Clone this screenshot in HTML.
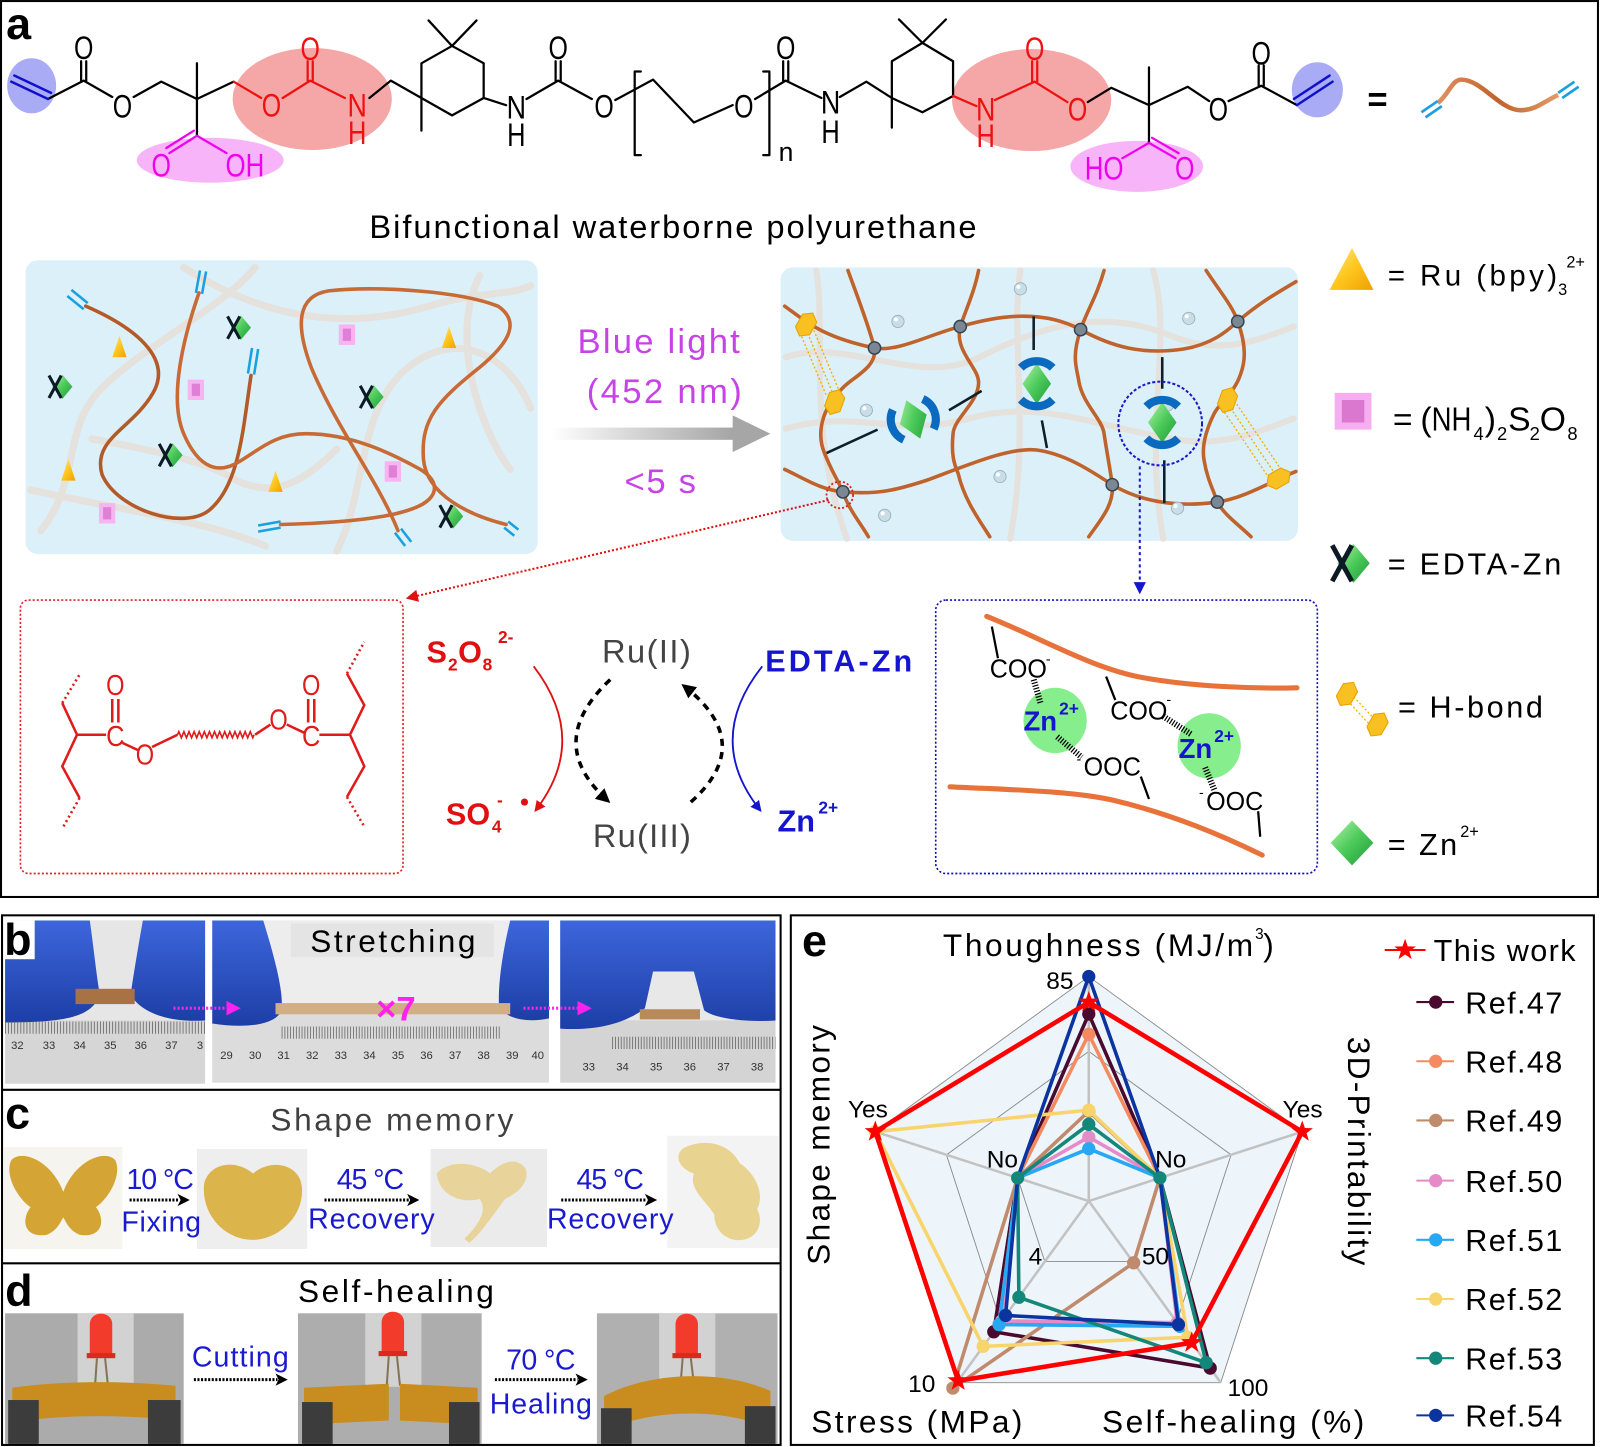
<!DOCTYPE html>
<html><head><meta charset="utf-8">
<style>
html,body{margin:0;padding:0;background:#fff;}
svg{display:block;}
text{font-family:"Liberation Sans",Arial,sans-serif;}
</style></head><body>
<svg width="1600" height="1447" viewBox="0 0 1568 1418" xmlns="http://www.w3.org/2000/svg" xmlns:xlink="http://www.w3.org/1999/xlink">
<defs>
<linearGradient id="gArrow" x1="0" x2="1" y1="0" y2="0"><stop offset="0" stop-color="#ffffff"/><stop offset="1" stop-color="#a4a4a4"/></linearGradient>
<linearGradient id="gYel" x1="0" x2="1" y1="0" y2="1"><stop offset="0" stop-color="#ffec8a"/><stop offset="0.5" stop-color="#ffc61e"/><stop offset="1" stop-color="#eea000"/></linearGradient>
<linearGradient id="gGrn" x1="0" x2="1" y1="0" y2="1"><stop offset="0" stop-color="#b4f4aa"/><stop offset="0.5" stop-color="#4cca5a"/><stop offset="1" stop-color="#1f9a3a"/></linearGradient>
<linearGradient id="gGlove" x1="0" x2="0" y1="0" y2="1"><stop offset="0" stop-color="#3d66dc"/><stop offset="1" stop-color="#1d3ea6"/></linearGradient>
<linearGradient id="gChain" x1="0" x2="1"><stop offset="0" stop-color="#e09060"/><stop offset="0.5" stop-color="#c0622b"/><stop offset="1" stop-color="#e39a68"/></linearGradient>
<path id="star" d="M0,-11 L2.6,-3.6 L10.5,-3.4 L4.2,1.4 L6.5,8.9 L0,4.4 L-6.5,8.9 L-4.2,1.4 L-10.5,-3.4 L-2.6,-3.6 Z"/>
<g id="tri"><path d="M0,-11 L7,10 L-7,10 Z" fill="url(#gYel)"/></g>
<g id="psq"><rect x="-8" y="-10" width="16" height="20" fill="#f7b4f1"/><rect x="-4" y="-6" width="8" height="12" fill="#df7fd6"/></g>
<g id="edta"><path d="M4,-12 L14,0 L4,12 L-6,0 Z" fill="url(#gGrn)"/><path d="M-9,-11 L3,11 M3,-11 L-9,11" stroke="#0b1a24" stroke-width="3" fill="none"/></g>
<g id="dia"><path d="M0,-20 L14,0 L0,20 L-14,0 Z" fill="url(#gGrn)"/></g>
<g id="node"><circle r="6" fill="#7a8894" stroke="#3a4450" stroke-width="1.5"/></g>
<g id="bub"><circle r="6" fill="#c9dde8" stroke="#98acb8" stroke-width="0.8"/><circle cx="-2" cy="-2" r="2" fill="#fff"/></g>
<g id="hex"><path d="M0,-13 L8,-7 L8,7 L0,13 L-8,7 L-8,-7 Z" fill="#f8c020" stroke="#e8a000" stroke-width="1"/></g>
<marker id="mRed" viewBox="0 0 10 10" refX="8" refY="5" markerWidth="6" markerHeight="6" orient="auto"><path d="M0,0 L10,5 L0,10 Z" fill="#e01010"/></marker>
<marker id="mBlue" viewBox="0 0 10 10" refX="8" refY="5" markerWidth="6" markerHeight="6" orient="auto"><path d="M0,0 L10,5 L0,10 Z" fill="#1515d0"/></marker>
<marker id="mBlk" viewBox="0 0 10 10" refX="8" refY="5" markerWidth="4" markerHeight="4" orient="auto"><path d="M0,0 L10,5 L0,10 Z" fill="#000"/></marker>
</defs>

<!-- ================= PANEL A ================= -->
<rect x="1" y="1" width="1565" height="878" fill="#fff" stroke="#000" stroke-width="2"/>
<text x="6" y="38" font-size="44" font-weight="bold">a</text>

<ellipse cx="31" cy="84" rx="24" ry="27" fill="#a9acf4"/>
<ellipse cx="306" cy="97" rx="78" ry="50" fill="#f5a6a6"/>
<ellipse cx="206" cy="157" rx="72" ry="22" fill="#f8b4f8"/>
<ellipse cx="1011" cy="98" rx="78" ry="50" fill="#f5a6a6"/>
<ellipse cx="1114" cy="163" rx="65" ry="25" fill="#f8b4f8"/>
<ellipse cx="1291" cy="88" rx="25" ry="27" fill="#a9acf4"/>

<g stroke="#000" stroke-width="2.2" fill="none" stroke-linecap="round" stroke-linejoin="round">
<path d="M47,97 L82,79 M79.5,79 L79.5,60 M84.5,79 L84.5,60 M82,79 L110,95 M131,95 L158,80 L193,97 M193,97 L193,62 M193,97 L193,133"/>
<path d="M362,96 L383,79 L413,96 M413,96 L413,62 L443,45 L474,62 L474,96 L443,113 Z M413,96 L413,128 M443,45 L420,20 M443,45 L467,20 M474,96 L496,103"/>
<path d="M516,97 L547,79 L580,97 M544.5,79 L544.5,60 M549.5,79 L549.5,60 M603,98 L640,78 L680,120 L718,103"/>
<path d="M628,70 L622,70 L622,152 L628,152 M748,70 L754,70 L754,152 L748,152"/>
<path d="M740,97 L770,79 M767.5,79 L767.5,60 M772.5,79 L772.5,60 M770,79 L805,96"/>
<path d="M823,95 L849,80 L874,96 M874,96 L874,60 L904,42 L934,60 L934,94 L904,110 Z M874,96 L874,125 M904,42 L881,19 M904,42 L927,19"/>
<path d="M1066,100 L1089,86 L1126,103 L1164,85 L1185,99 M1126,103 L1126,66 M1126,103 L1126,140"/>
<path d="M1204,99 L1236,84 L1271,103 M1233.5,84 L1233.5,64 M1238.5,84 L1238.5,64"/>
<path d="M193,97 L229,80"/>
</g>
<g stroke="#ee1111" stroke-width="2.2" fill="none" stroke-linecap="round">
<path d="M229,80 L256,96 M277,96 L304,79 L338,96 M301.5,79 L301.5,60 M306.5,79 L306.5,60"/>
<path d="M934,94 L957,104 M975,98 L1014,80 L1046,100 M1011.5,80 L1011.5,60 M1016.5,80 L1016.5,60"/>
</g>
<g stroke="#ee00ee" stroke-width="2.2" fill="none" stroke-linecap="round">
<path d="M193,133 L166,150 M190,128 L163,145 M193,133 L222,150"/>
<path d="M1126,140 L1100,155 M1126,140 L1152,155 M1129,135 L1155,150"/>
</g>
<g stroke="#1010cc" stroke-width="2.4" fill="none" stroke-linecap="round">
<path d="M11,80 L47,97 M14,74 L50,91"/>
<path d="M1271,103 L1306,80 M1268,97 L1303,74"/>
</g>
<g font-size="32">
<text x="72.5" y="58" textLength="19" lengthAdjust="spacingAndGlyphs">O</text>
<text x="110.5" y="115" textLength="19" lengthAdjust="spacingAndGlyphs">O</text>
<text x="496.5" y="116" textLength="19" lengthAdjust="spacingAndGlyphs">N</text>
<text x="497" y="143" textLength="18" lengthAdjust="spacingAndGlyphs">H</text>
<text x="537.5" y="58" textLength="19" lengthAdjust="spacingAndGlyphs">O</text>
<text x="582.5" y="115" textLength="19" lengthAdjust="spacingAndGlyphs">O</text>
<text x="719.5" y="115" textLength="19" lengthAdjust="spacingAndGlyphs">O</text>
<text x="760.5" y="58" textLength="19" lengthAdjust="spacingAndGlyphs">O</text>
<text x="804.5" y="111" textLength="19" lengthAdjust="spacingAndGlyphs">N</text>
<text x="805" y="140" textLength="18" lengthAdjust="spacingAndGlyphs">H</text>
<text x="1184.5" y="118" textLength="19" lengthAdjust="spacingAndGlyphs">O</text>
<text x="1226.5" y="63" textLength="19" lengthAdjust="spacingAndGlyphs">O</text>
<text x="763" y="158" font-size="26" font-family="Liberation Serif,serif">n</text>
<g fill="#ee1111">
<text x="256.5" y="114" textLength="19" lengthAdjust="spacingAndGlyphs">O</text>
<text x="294.5" y="59" textLength="19" lengthAdjust="spacingAndGlyphs">O</text>
<text x="340.5" y="114" textLength="19" lengthAdjust="spacingAndGlyphs">N</text>
<text x="341" y="141" textLength="18" lengthAdjust="spacingAndGlyphs">H</text>
<text x="956.5" y="118" textLength="19" lengthAdjust="spacingAndGlyphs">N</text>
<text x="957" y="144" textLength="18" lengthAdjust="spacingAndGlyphs">H</text>
<text x="1004.5" y="59" textLength="19" lengthAdjust="spacingAndGlyphs">O</text>
<text x="1046.5" y="118" textLength="19" lengthAdjust="spacingAndGlyphs">O</text>
</g>
<g fill="#ee00ee">
<text x="148.5" y="173" textLength="19" lengthAdjust="spacingAndGlyphs">O</text>
<text x="221" y="173" textLength="38" lengthAdjust="spacingAndGlyphs">OH</text>
<text x="1063" y="176" textLength="38" lengthAdjust="spacingAndGlyphs">HO</text>
<text x="1151.5" y="176" textLength="19" lengthAdjust="spacingAndGlyphs">O</text>
</g>
</g>
<text x="1340" y="109" font-size="34" font-weight="bold">=</text>
<path d="M1409,101 C1420,92 1423,78 1432,78 C1452,78 1470,108 1490,108 C1505,108 1512,100 1527,93" stroke="url(#gChain)" stroke-width="4.5" fill="none"/>
<path d="M1393,110 L1409,99 M1397,115 L1413,104 M1527,91 L1543,80 M1531,96 L1547,85" stroke="#1aa0e0" stroke-width="2.6"/>
<text x="362" y="233" font-size="32" textLength="595" lengthAdjust="spacing">Bifunctional waterborne polyurethane</text>

<!-- left box -->
<rect x="25" y="255" width="502" height="288" rx="12" fill="#dcf0f9"/>
<g stroke="#e6e0da" stroke-width="7" fill="none" stroke-linecap="round" opacity="0.9">
<path d="M40,520 C80,470 60,420 100,380 C140,340 220,300 250,262"/>
<path d="M180,262 C240,300 320,330 420,300 C470,285 500,290 520,280"/>
<path d="M30,480 C120,500 200,510 260,535"/>
<path d="M330,540 C360,480 350,400 400,360 C450,320 500,350 520,400"/>
<path d="M90,430 C140,440 200,450 230,470 C270,490 300,470 330,440"/>
<path d="M470,270 C440,330 470,420 500,460"/>
</g>
<g stroke="#c86a35" stroke-width="3.5" fill="none" stroke-linecap="round">
<path d="M84,300 C130,320 170,350 150,385 C130,420 90,430 100,465 C115,500 180,520 205,500 C235,475 238,420 246,368" stroke="#b35a28"/>
<path d="M195,287 C180,330 165,390 180,425 C195,460 215,465 235,452 C255,440 270,425 300,425 C345,425 385,445 412,460 C432,472 432,490 400,500 C370,510 315,513 275,514"/>
<path d="M390,520 C370,470 330,420 305,360 C290,320 290,290 322,285 C370,280 450,285 488,300 C510,315 500,335 470,360 C430,392 412,410 415,450 C418,485 460,505 496,514"/>
</g>
<g stroke="#1aa0e0" stroke-width="2.5">
<path d="M66,290 L82,303 M70,284 L86,297"/>
<path d="M243,366 L247,341 M249,367 L253,342"/>
<path d="M192,287 L196,265 M198,288 L202,266"/>
<path d="M275,511 L253,515 M275,517 L253,521"/>
<path d="M387,522 L397,535 M393,518 L403,531"/>
<path d="M494,517 L504,525 M498,511 L508,519"/>
</g>
<use href="#tri" xlink:href="#tri" x="117" y="340"/><use href="#tri" xlink:href="#tri" x="440" y="331"/>
<use href="#tri" xlink:href="#tri" x="67" y="461"/><use href="#tri" xlink:href="#tri" x="270" y="472"/>
<use href="#psq" xlink:href="#psq" x="340" y="328"/><use href="#psq" xlink:href="#psq" x="192" y="382"/>
<use href="#psq" xlink:href="#psq" x="385" y="462"/><use href="#psq" xlink:href="#psq" x="105" y="503"/>
<use href="#edta" xlink:href="#edta" x="232" y="321"/><use href="#edta" xlink:href="#edta" x="57" y="379"/>
<use href="#edta" xlink:href="#edta" x="362" y="389"/><use href="#edta" xlink:href="#edta" x="165" y="446"/>
<use href="#edta" xlink:href="#edta" x="440" y="506"/>

<rect x="540" y="419" width="180" height="12" fill="url(#gArrow)"/>
<path d="M718,407 L755,425 L718,443 Z" fill="#a6a6a6"/>
<g fill="#c644e6" font-size="34">
<text x="566" y="346" textLength="159" lengthAdjust="spacing">Blue light</text>
<text x="575" y="395" textLength="152" lengthAdjust="spacing">(452 nm)</text>
<text x="612" y="483" textLength="70" lengthAdjust="spacing">&lt;5 s</text>
</g>

<!-- right box -->
<rect x="765" y="262" width="507" height="268" rx="12" fill="#dcf0f9"/>
<g stroke="#e6e0da" stroke-width="6" fill="none" opacity="0.9" stroke-linecap="round">
<path d="M770,350 C830,330 900,380 960,350 C1020,320 1080,300 1150,330 C1200,350 1240,330 1268,320"/>
<path d="M770,420 C840,400 880,430 950,410 C1020,390 1080,420 1150,430 C1200,440 1240,420 1268,410"/>
<path d="M800,265 C810,330 790,420 830,528"/>
<path d="M1000,265 C990,330 1010,420 990,528"/>
<path d="M1130,265 C1150,330 1120,420 1140,528"/>
</g>
<g stroke="#c0622b" stroke-width="3.5" fill="none" stroke-linecap="round">
<path d="M769,300 C790,315 805,330 857,341 C880,345 910,328 941,320 C975,310 1020,302 1059,323 C1090,340 1120,348 1160,342 C1190,337 1205,322 1213,315 C1235,296 1255,285 1270,276"/>
<path d="M769,460 C790,470 805,480 826,482 C860,485 880,480 910,470 C950,455 990,438 1016,441 C1045,445 1070,462 1090,475 C1115,490 1150,498 1193,492 C1220,488 1245,472 1270,462"/>
<path d="M831,265 C840,290 850,315 857,341 C860,360 835,370 826,380 C805,400 800,425 808,444 C815,462 822,472 826,482 C832,500 845,515 851,526"/>
<path d="M959,265 C955,285 948,300 941,320 C935,345 960,360 959,376 C958,395 935,410 934,425 C932,445 935,455 939,464 C945,490 960,510 970,526"/>
<path d="M1082,265 C1075,290 1065,305 1059,323 C1050,350 1055,360 1057,372 C1060,395 1080,410 1082,425 C1085,445 1088,460 1090,475 C1092,495 1078,510 1067,526"/>
<path d="M1182,265 C1195,285 1208,300 1213,315 C1222,340 1220,355 1216,366 C1210,385 1195,395 1190,405 C1180,425 1178,440 1180,451 C1183,470 1190,482 1193,492 C1200,505 1215,515 1226,526"/>
</g>
<g stroke="#0d1f2a" stroke-width="2.5">
<path d="M810,444 L860,421 M930,402 L962,383 M1013,310 L1013,343 M1021,412 L1026,439 M1139,350 L1139,381 M1141,451 L1141,493"/>
</g>
<g stroke="#f0b000" stroke-width="1.3" stroke-dasharray="2 2" fill="none">
<path d="M784,326 L810,388 M790,323 L816,385 M796,320 L822,382"/>
<path d="M1200,404 L1242,466 M1206,400 L1248,462 M1212,396 L1254,458"/>
</g>
<use href="#hex" xlink:href="#hex" transform="translate(790,318) rotate(30)"/>
<use href="#hex" xlink:href="#hex" transform="translate(818,394) rotate(20)"/>
<use href="#hex" xlink:href="#hex" transform="translate(1203,392) rotate(20)"/>
<use href="#hex" xlink:href="#hex" transform="translate(1253,469) rotate(60)"/>
<use href="#node" xlink:href="#node" x="857" y="341"/><use href="#node" xlink:href="#node" x="941" y="320"/>
<use href="#node" xlink:href="#node" x="1059" y="323"/><use href="#node" xlink:href="#node" x="1213" y="315"/>
<use href="#node" xlink:href="#node" x="826" y="482"/><use href="#node" xlink:href="#node" x="1090" y="475"/>
<use href="#node" xlink:href="#node" x="1193" y="492"/>
<use href="#bub" xlink:href="#bub" x="1000" y="283"/><use href="#bub" xlink:href="#bub" x="880" y="315"/>
<use href="#bub" xlink:href="#bub" x="1165" y="312"/><use href="#bub" xlink:href="#bub" x="849" y="402"/>
<use href="#bub" xlink:href="#bub" x="1144" y="397"/><use href="#bub" xlink:href="#bub" x="980" y="467"/>
<use href="#bub" xlink:href="#bub" x="867" y="505"/><use href="#bub" xlink:href="#bub" x="1154" y="498"/>
<g transform="translate(895,411) rotate(-20)">
<use href="#dia" xlink:href="#dia"/>
<path d="M-15.6,-15.6 A22,22 0 0,0 -15.6,15.6 M15.6,-15.6 A22,22 0 0,1 15.6,15.6" stroke="#0a6ac0" stroke-width="8" fill="none"/>
</g>
<g transform="translate(1016,376)">
<use href="#dia" xlink:href="#dia"/>
<path d="M-15.6,-15.6 A22,22 0 0,1 15.6,-15.6 M-15.6,15.6 A22,22 0 0,0 15.6,15.6" stroke="#0a6ac0" stroke-width="8" fill="none"/>
</g>
<g transform="translate(1139,414)">
<use href="#dia" xlink:href="#dia"/>
<path d="M-15.6,-15.6 A22,22 0 0,1 15.6,-15.6 M-15.6,15.6 A22,22 0 0,0 15.6,15.6" stroke="#0a6ac0" stroke-width="8" fill="none"/>
</g>
<ellipse cx="1137" cy="415" rx="41" ry="41" fill="none" stroke="#1a1acc" stroke-width="2" stroke-dasharray="3 2"/>
<circle cx="823" cy="485" r="13" fill="none" stroke="#e02020" stroke-width="1.8" stroke-dasharray="2 2"/>
<path d="M812,490 L400,586" stroke="#e01010" stroke-width="2" stroke-dasharray="2 2" fill="none" marker-end="url(#mRed)"/>
<path d="M1117,457 L1117,580" stroke="#1a1acc" stroke-width="2" stroke-dasharray="3 3" fill="none" marker-end="url(#mBlue)"/>

<!-- legend right of panel a -->
<path d="M1325,243 L1346,284 L1303,284 Z" fill="url(#gYel)"/>
<g font-size="29">
<text x="1360" y="280" textLength="166" lengthAdjust="spacing">= Ru (bpy)</text>
<text x="1527" y="289" font-size="16">3</text><text x="1535" y="262" font-size="16">2+</text>
</g>
<rect x="1308" y="385" width="36" height="36" fill="#f6aef0"/><rect x="1315" y="392" width="22" height="22" fill="#da78d0"/>
<g font-size="33">
<text x="1365" y="422">=</text>
<text x="1392" y="422">(</text>
<text x="1403" y="422" textLength="39" lengthAdjust="spacingAndGlyphs">NH</text>
<text x="1444" y="431" font-size="18">4</text><text x="1455" y="422">)</text>
<text x="1467" y="431" font-size="18">2</text><text x="1478" y="422">S</text>
<text x="1499" y="431" font-size="18">2</text><text x="1509" y="422">O</text>
<text x="1536" y="431" font-size="18">8</text>
</g>
<g font-size="30">
<text x="1360" y="563" textLength="170" lengthAdjust="spacing">= EDTA-Zn</text>
<text x="1370" y="703" textLength="142" lengthAdjust="spacing">= H-bond</text>
<text x="1360" y="838" textLength="68" lengthAdjust="spacing">= Zn</text>
<text x="1431" y="820" font-size="16">2+</text>
</g>
<g transform="translate(1320,552) scale(1.6)"><use href="#edta" xlink:href="#edta"/></g>
<g stroke="#f0b000" stroke-width="1.2" stroke-dasharray="2 2"><path d="M1318,684 L1346,714 M1324,680 L1352,710"/></g>
<use href="#hex" xlink:href="#hex" transform="translate(1320,680) rotate(30)"/>
<use href="#hex" xlink:href="#hex" transform="translate(1350,710) rotate(30)"/>
<path d="M1325,804 L1346,826 L1325,848 L1304,826 Z" fill="url(#gGrn)"/>

<!-- red dotted box -->
<rect x="20" y="588" width="375" height="268" rx="8" fill="none" stroke="#e02020" stroke-width="1.6" stroke-dasharray="2 2"/>
<g stroke="#e01b1b" stroke-width="2.5" fill="none">
<path d="M61,689 L75.5,720 L61,751 L78,782 M75.5,720 L104,720 M110,708 L110,685 M116,708 L116,685 M120,728 L135,735 M149,732 L174,720 M250,720 L265,710 M281,710 L298,718 M302,708 L302,685 M308,708 L308,685 M313,720 L343,720 L357,691 L340,660 M343,720 L357,751 L340,781"/>
<path d="M174,720 l1.25,-3 l2.5,6 l1.25,-3 l1.25,-3 l2.5,6 l1.25,-3 l1.25,-3 l2.5,6 l1.25,-3 l1.25,-3 l2.5,6 l1.25,-3 l1.25,-3 l2.5,6 l1.25,-3 l1.25,-3 l2.5,6 l1.25,-3 l1.25,-3 l2.5,6 l1.25,-3 l1.25,-3 l2.5,6 l1.25,-3 l1.25,-3 l2.5,6 l1.25,-3 l1.25,-3 l2.5,6 l1.25,-3 l1.25,-3 l2.5,6 l1.25,-3 l1.25,-3 l2.5,6 l1.25,-3 l1.25,-3 l2.5,6 l1.25,-3 l1.25,-3 l2.5,6 l1.25,-3 l1.25,-3 l2.5,6 l1.25,-3" stroke-width="1.6"/>
<path d="M61,689 L78,661 M78,782 L61,812 M340,660 L357,629 M340,781 L357,810" stroke-dasharray="2 3"/>
</g>
<g fill="#e01b1b" font-size="28">
<text x="104" y="681" textLength="18" lengthAdjust="spacingAndGlyphs">O</text>
<text x="104" y="731" textLength="18" lengthAdjust="spacingAndGlyphs">C</text>
<text x="133" y="749" textLength="18" lengthAdjust="spacingAndGlyphs">O</text>
<text x="264" y="715" textLength="18" lengthAdjust="spacingAndGlyphs">O</text>
<text x="296" y="731" textLength="18" lengthAdjust="spacingAndGlyphs">C</text>
<text x="296" y="681" textLength="18" lengthAdjust="spacingAndGlyphs">O</text>
</g>
<g fill="#e01010" font-weight="bold" font-size="30">
<text x="418" y="649">S</text><text x="439" y="657" font-size="17">2</text><text x="449" y="649">O</text><text x="473" y="657" font-size="17">8</text><text x="488" y="630" font-size="17">2-</text>
<text x="437" y="808">SO</text><text x="482" y="816" font-size="17">4</text><text x="487" y="790" font-size="17">-</text>
</g>
<circle cx="514" cy="786" r="3.5" fill="#e01010"/>
<path d="M523,653 Q578,725 525,794" stroke="#e01010" stroke-width="1.8" fill="none" marker-end="url(#mRed)"/>
<g fill="#444" font-size="32">
<text x="590" y="649" textLength="87" lengthAdjust="spacing">Ru(II)</text>
<text x="581" y="830" textLength="96" lengthAdjust="spacing">Ru(III)</text>
</g>
<path d="M598,666 Q532,728 596,785" stroke="#000" stroke-width="3.5" fill="none" stroke-dasharray="7 6" marker-end="url(#mBlk)"/>
<path d="M677,786 Q742,728 670,672" stroke="#000" stroke-width="3.5" fill="none" stroke-dasharray="7 6" marker-end="url(#mBlk)"/>
<g fill="#1515d0" font-weight="bold" font-size="30">
<text x="750" y="658" textLength="144" lengthAdjust="spacing">EDTA-Zn</text>
<text x="762" y="815">Zn</text><text x="802" y="797" font-size="17">2+</text>
</g>
<path d="M747,653 Q690,725 745,794" stroke="#1515d0" stroke-width="1.8" fill="none" marker-end="url(#mBlue)"/>

<!-- blue dotted box -->
<rect x="917" y="588" width="374" height="268" rx="10" fill="none" stroke="#1010c0" stroke-width="1.6" stroke-dasharray="2 2"/>
<g stroke="#e8733a" stroke-width="5" fill="none" stroke-linecap="round">
<path d="M967,604 C1020,625 1070,655 1120,664 C1170,673 1230,675 1271,674"/>
<path d="M931,771 C990,774 1050,775 1090,784 C1150,798 1200,820 1237,838"/>
</g>
<ellipse cx="1034" cy="706" rx="31" ry="32" fill="#86ee8c"/>
<ellipse cx="1185" cy="731" rx="31" ry="32" fill="#86ee8c"/>
<g stroke="#000" stroke-width="2.2" fill="none">
<path d="M972,614 L978,645 M1084,663 L1093,686 M1118,761 L1126,783 M1233,795 L1235,820"/>
</g>
<g stroke="#000" stroke-width="6" stroke-dasharray="1.2 1.6" fill="none">
<path d="M1013,666 L1020,690 M1036,722 L1060,742 M1140,702 L1168,720 M1181,752 L1190,774"/>
</g>
<g font-size="25" fill="#000">
<text x="970" y="664" textLength="56" lengthAdjust="spacingAndGlyphs">COO</text><text x="1025" y="650" font-size="14">-</text>
<text x="1088" y="705" textLength="56" lengthAdjust="spacingAndGlyphs">COO</text><text x="1143" y="690" font-size="14">-</text>
<text x="1062" y="760" textLength="56" lengthAdjust="spacingAndGlyphs">OOC</text><text x="1055" y="748" font-size="14">-</text>
<text x="1182" y="794" textLength="56" lengthAdjust="spacingAndGlyphs">OOC</text><text x="1175" y="781" font-size="14">-</text>
</g>
<g fill="#1515d0" font-weight="bold" font-size="27">
<text x="1003" y="716">Zn</text><text x="1038" y="700" font-size="17">2+</text>
<text x="1155" y="743">Zn</text><text x="1190" y="727" font-size="17">2+</text>
</g>

<!-- ================= PANELS B-D ================= -->
<rect x="2" y="897" width="763" height="519" fill="#fff" stroke="#000" stroke-width="2"/>
<rect x="5" y="902" width="196" height="160" fill="#d6d6d6"/>
<rect x="5" y="902" width="196" height="98" fill="#e6e6e6"/>
<path d="M5,902 L88,902 C92,930 95,960 98,975 C90,995 70,1002 5,1002 Z" fill="url(#gGlove)"/>
<path d="M201,902 L140,902 C135,930 130,960 128,975 C140,995 170,1002 201,1000 Z" fill="url(#gGlove)"/>
<rect x="74" y="969" width="58" height="15" fill="#a87244"/>
<path d="M5,1007 L201,1007" stroke="#666" stroke-width="12" stroke-dasharray="0.8 2.2"/>
<g font-size="11" fill="#333" text-anchor="middle">
<text x="17" y="1028">32</text><text x="48" y="1028">33</text><text x="78" y="1028">34</text><text x="108" y="1028">35</text><text x="138" y="1028">36</text><text x="168" y="1028">37</text><text x="196" y="1028">3</text>
</g>
<rect x="4" y="902" width="30" height="38" fill="#fff"/>
<text x="4" y="936" font-size="44" font-weight="bold">b</text>
<rect x="208" y="902" width="330" height="159" fill="#dcdcdc"/>
<rect x="208" y="902" width="330" height="82" fill="#ededed"/>
<path d="M208,902 L258,902 C268,935 278,970 276,990 C270,1005 240,1008 208,1003 Z" fill="url(#gGlove)"/>
<path d="M538,902 L500,902 C492,935 488,965 489,985 C495,1000 520,1002 538,998 Z" fill="url(#gGlove)"/>
<rect x="270" y="983" width="230" height="11" fill="#d2ae86"/>
<path d="M276,1012 L490,1012" stroke="#666" stroke-width="12" stroke-dasharray="0.8 2"/>
<rect x="285" y="905" width="199" height="33" fill="#e4e4e4"/>
<text x="304" y="933" font-size="31" textLength="162" lengthAdjust="spacing">Stretching</text>
<text x="388" y="1000" font-size="34" font-weight="bold" fill="#ff22ee" text-anchor="middle">×7</text>
<g font-size="11" fill="#333" text-anchor="middle">
<text x="222" y="1038">29</text><text x="250" y="1038">30</text><text x="278" y="1038">31</text><text x="306" y="1038">32</text><text x="334" y="1038">33</text><text x="362" y="1038">34</text><text x="390" y="1038">35</text><text x="418" y="1038">36</text><text x="446" y="1038">37</text><text x="474" y="1038">38</text><text x="502" y="1038">39</text><text x="527" y="1038">40</text>
</g>
<rect x="549" y="902" width="211" height="159" fill="#d4d4d4"/>
<rect x="600" y="940" width="120" height="60" fill="#e8e8e8"/>
<path d="M549,902 L760,902 L760,1000 C730,1002 700,998 690,990 L680,952 L640,952 L632,988 C610,1005 580,1010 549,1008 Z" fill="url(#gGlove)"/>
<rect x="627" y="989" width="59" height="10" fill="#b88a5a"/>
<path d="M600,1022 L760,1022" stroke="#666" stroke-width="12" stroke-dasharray="0.8 2"/>
<g font-size="11" fill="#333" text-anchor="middle">
<text x="577" y="1049">33</text><text x="610" y="1049">34</text><text x="643" y="1049">35</text><text x="676" y="1049">36</text><text x="709" y="1049">37</text><text x="742" y="1049">38</text>
</g>
<g stroke="#ff22ee" stroke-width="3" stroke-dasharray="2 2"><path d="M170,988 L224,988 M513,988 L568,988"/></g>
<path d="M222,981 L236,988 L222,995 Z M566,981 L580,988 L566,995 Z" fill="#ff22ee"/>
<line x1="2" y1="1068" x2="765" y2="1068" stroke="#000" stroke-width="2"/>

<!-- c -->
<text x="5" y="1106" font-size="44" font-weight="bold">c</text>
<text x="265" y="1108" font-size="31" fill="#404040" textLength="238" lengthAdjust="spacing">Shape memory</text>
<rect x="4" y="1124" width="116" height="100" fill="#f6f4ee"/>
<path d="M62,1168 C50,1136 20,1126 11,1137 C4,1152 18,1175 30,1183 C20,1196 24,1214 46,1210 C56,1206 59,1198 62,1193 C65,1198 68,1206 78,1210 C100,1214 104,1196 94,1183 C106,1175 120,1152 113,1137 C104,1126 74,1136 62,1168 Z" fill="#d4a535"/>
<rect x="193" y="1126" width="108" height="98" fill="#eeeeee"/>
<path d="M200,1160 C205,1140 230,1135 248,1150 C265,1135 295,1140 296,1165 C297,1195 270,1215 248,1215 C220,1215 197,1190 200,1160 Z" fill="#dbb44c"/>
<rect x="422" y="1126" width="114" height="96" fill="#ebebeb"/>
<path d="M428,1150 C440,1135 470,1140 480,1150 C490,1140 505,1132 515,1145 C520,1160 505,1170 495,1175 C480,1195 470,1210 460,1218 L455,1214 C470,1200 478,1185 470,1175 C450,1180 430,1170 428,1150 Z" fill="#e8d49a"/>
<rect x="654" y="1113" width="109" height="110" fill="#f3f3f3"/>
<path d="M670,1125 C690,1115 715,1120 725,1140 C740,1150 750,1170 742,1185 C750,1200 740,1218 720,1215 C705,1212 700,1200 700,1190 C690,1175 675,1165 680,1150 C665,1145 660,1132 670,1125 Z" fill="#e8d490"/>
<g fill="#1a1ad0" font-size="28">
<text x="124" y="1165" textLength="66" lengthAdjust="spacing">10 °C</text>
<text x="119" y="1207" textLength="78" lengthAdjust="spacing">Fixing</text>
<text x="330" y="1165" textLength="66" lengthAdjust="spacing">45 °C</text>
<text x="302" y="1204" textLength="124" lengthAdjust="spacing">Recovery</text>
<text x="565" y="1165" textLength="66" lengthAdjust="spacing">45 °C</text>
<text x="536" y="1204" textLength="124" lengthAdjust="spacing">Recovery</text>
</g>
<g stroke="#000" stroke-width="3" stroke-dasharray="2 1.5"><path d="M127,1176 L176,1176 M318,1176 L401,1176 M550,1176 L634,1176"/></g>
<path d="M174,1170 L186,1176 L174,1182 L177,1176 Z M399,1170 L411,1176 L399,1182 L402,1176 Z M632,1170 L644,1176 L632,1182 L635,1176 Z" fill="#000"/>
<line x1="2" y1="1238" x2="765" y2="1238" stroke="#000" stroke-width="2"/>

<!-- d -->
<text x="5" y="1280" font-size="44" font-weight="bold">d</text>
<text x="292" y="1276" font-size="31" textLength="192" lengthAdjust="spacing">Self-healing</text>
<g>
<rect x="5" y="1287" width="175" height="128" fill="#ababab"/>
<rect x="76" y="1287" width="55" height="72" fill="#d2d2d2"/>
<path d="M88,1330 L88,1298 C88,1284 110,1284 110,1298 L110,1330 Z" fill="#f23b2b"/><rect x="85" y="1326" width="28" height="5" fill="#d82a20"/>
<path d="M95,1331 L93,1360 M103,1331 L106,1360" stroke="#857455" stroke-width="2"/>
<path d="M12,1360 C60,1353 120,1353 172,1358 L172,1392 C120,1386 60,1386 12,1394 Z" fill="#c98c1e"/>
<rect x="8" y="1372" width="30" height="43" fill="#3c3c3c"/><rect x="145" y="1372" width="32" height="43" fill="#3c3c3c"/>

<rect x="292" y="1287" width="180" height="128" fill="#adadad"/>
<rect x="358" y="1287" width="55" height="72" fill="#d2d2d2"/>
<path d="M374,1328 L374,1296 C374,1282 396,1282 396,1296 L396,1328 Z" fill="#f23b2b"/><rect x="371" y="1324" width="28" height="5" fill="#d82a20"/>
<path d="M381,1329 L379,1358 M389,1329 L392,1358" stroke="#857455" stroke-width="2"/>
<path d="M298,1360 L381,1356 L381,1392 L298,1396 Z M392,1356 L468,1360 L468,1396 L392,1392 Z" fill="#c98c1e"/>
<rect x="296" y="1374" width="30" height="41" fill="#3c3c3c"/><rect x="440" y="1374" width="30" height="41" fill="#3c3c3c"/>

<rect x="585" y="1287" width="177" height="128" fill="#b0b0b0"/>
<rect x="646" y="1287" width="55" height="70" fill="#d2d2d2"/>
<path d="M662,1330 L662,1298 C662,1284 684,1284 684,1298 L684,1330 Z" fill="#f23b2b"/><rect x="659" y="1326" width="28" height="5" fill="#d82a20"/>
<path d="M669,1331 L667,1356 M677,1331 L680,1356" stroke="#857455" stroke-width="2"/>
<path d="M592,1368 C640,1343 710,1343 755,1363 L755,1400 C710,1380 640,1380 592,1402 Z" fill="#c98c1e"/>
<rect x="589" y="1380" width="30" height="35" fill="#3c3c3c"/><rect x="730" y="1378" width="30" height="37" fill="#3c3c3c"/>
</g>
<g fill="#1a1ad0" font-size="28">
<text x="188" y="1339" textLength="95" lengthAdjust="spacing">Cutting</text>
<text x="496" y="1342" textLength="68" lengthAdjust="spacing">70 °C</text>
<text x="480" y="1385" textLength="100" lengthAdjust="spacing">Healing</text>
</g>
<g stroke="#000" stroke-width="3" stroke-dasharray="2 1.5"><path d="M190,1352 L272,1352 M485,1352 L566,1352"/></g>
<path d="M270,1346 L282,1352 L270,1358 L273,1352 Z M564,1346 L576,1352 L564,1358 L567,1352 Z" fill="#000"/>

<!-- ================= PANEL E ================= -->
<rect x="775" y="897" width="787" height="519" fill="#fff" stroke="#000" stroke-width="2"/>
<text x="786" y="937" font-size="44" font-weight="bold">e</text>
<path d="M1067,957 L1276.2,1109 L1196.3,1355 L937.7,1355 L857.8,1109 Z" fill="#edf5fb" stroke="#8a8a8a" stroke-width="0.9"/>
<path d="M1067,1030.3 L1206.5,1131.7 L1153.2,1295.7 L980.8,1295.7 L927.5,1131.7 Z M1067,1103.7 L1136.7,1154.3 L1110.1,1236.3 L1023.9,1236.3 L997.3,1154.3 Z" fill="none" stroke="#8a8a8a" stroke-width="0.9"/>
<path d="M1067,1177 L1067,957 M1067,1177 L1276.2,1109 M1067,1177 L1196.3,1355 M1067,1177 L937.7,1355 M1067,1177 L857.8,1109" stroke="#c2c2c2" stroke-width="2.5"/>

<g stroke-width="3.5" fill="none" stroke-linejoin="round">
<polygon points="1067,993.7 1136.7,1154.3 1186,1340.7 973.9,1305.1 997.3,1154.3" stroke="#4a0a30"/>
<g fill="#4a0a30"><circle cx="1067" cy="993.7" r="6.5"/><circle cx="1186" cy="1340.7" r="6.5"/><circle cx="973.9" cy="1305.1" r="6.5"/></g>
<polygon points="1067,1013.5 1136.7,1154.3 1154.9,1298 979.1,1298 997.3,1154.3" stroke="#f58a60"/>
<g fill="#f58a60"><circle cx="1067" cy="1013.5" r="6.5"/><circle cx="1154.9" cy="1298" r="6.5"/><circle cx="979.1" cy="1298" r="6.5"/></g>
<polygon points="1067,1089 1136.7,1154.3 1111,1237.5 933.8,1360.3 997.3,1154.3" stroke="#c08a6c"/>
<g fill="#c08a6c"><circle cx="1067" cy="1089" r="6.5"/><circle cx="1111" cy="1237.5" r="6.5"/><circle cx="933.8" cy="1360.3" r="6.5"/></g>
<polygon points="1067,1114.3 1136.7,1154.3 1153.6,1296.2 981.7,1294.5 997.3,1154.3" stroke="#e68bc8"/>
<g fill="#e68bc8"><circle cx="1067" cy="1114.3" r="6.5"/><circle cx="1153.6" cy="1296.2" r="6.5"/><circle cx="981.7" cy="1294.5" r="6.5"/></g>
<polygon points="1067,1125.7 1136.7,1154.3 1156.2,1299.8 979.1,1298 997.3,1154.3" stroke="#28a8f2"/>
<g fill="#28a8f2"><circle cx="1067" cy="1125.7" r="6.5"/><circle cx="1156.2" cy="1299.8" r="6.5"/><circle cx="979.1" cy="1298" r="6.5"/></g>
<polygon points="1067,1087.9 1136.7,1154.3 1164,1310.5 963.5,1319.4 857.8,1109" stroke="#f8d46c"/>
<g fill="#f8d46c"><circle cx="1067" cy="1087.9" r="6.5"/><circle cx="1164" cy="1310.5" r="6.5"/><circle cx="963.5" cy="1319.4" r="6.5"/><circle cx="857.8" cy="1109" r="6.5"/></g>
<polygon points="1067,1101.8 1136.7,1154.3 1182.1,1335.4 998.5,1271.3 997.3,1154.3" stroke="#13877a"/>
<g fill="#13877a"><circle cx="1067" cy="1101.8" r="6.5"/><circle cx="1182.1" cy="1335.4" r="6.5"/><circle cx="998.5" cy="1271.3" r="6.5"/></g>
<polygon points="1067,957 1136.7,1154.3 1154.9,1298 985.5,1289.1 997.3,1154.3" stroke="#0b34a0"/>
<g fill="#0b34a0"><circle cx="1067" cy="957" r="6.5"/><circle cx="1154.9" cy="1298" r="6.5"/><circle cx="985.5" cy="1289.1" r="6.5"/></g>
<g fill="#13877a"><circle cx="1136.7" cy="1154.3" r="6.5"/><circle cx="997.3" cy="1154.3" r="6.5"/></g>
<polygon points="1067,982.1 1276.2,1109 1167.9,1315.8 939,1353.2 857.8,1109" stroke="#ff0000" stroke-width="4.5"/>
</g>
<g fill="#ff0000">
<use href="#star" xlink:href="#star" x="1067" y="982.1"/><use href="#star" xlink:href="#star" x="1276.2" y="1109"/>
<use href="#star" xlink:href="#star" x="1167.9" y="1315.8"/><use href="#star" xlink:href="#star" x="939" y="1353.2"/>
<use href="#star" xlink:href="#star" x="857.8" y="1109"/>
</g>
<g font-size="24" fill="#000">
<text x="1052" y="969" text-anchor="end">85</text>
<text x="831" y="1095">Yes</text><text x="1257" y="1095">Yes</text>
<text x="967" y="1144">No</text><text x="1132" y="1144">No</text>
<text x="1008" y="1239">4</text><text x="1119" y="1239">50</text>
<text x="890" y="1364">10</text><text x="1203" y="1368">100</text>
</g>
<g font-size="31" fill="#000">
<text x="924" y="937" textLength="304" lengthAdjust="spacing">Thoughness (MJ/m</text>
<text x="1230" y="920" font-size="15">3</text><text x="1238" y="937">)</text>
<text transform="translate(813,1122) rotate(-90)" text-anchor="middle" textLength="235" lengthAdjust="spacing">Shape memory</text>
<text transform="translate(1321,1128) rotate(90)" text-anchor="middle" textLength="224" lengthAdjust="spacing">3D-Printability</text>
<text x="795" y="1404" textLength="207" lengthAdjust="spacing">Stress (MPa)</text>
<text x="1080" y="1404" textLength="257" lengthAdjust="spacing">Self-healing (%)</text>
</g>
<g stroke-width="2">
<line x1="1357" y1="931" x2="1397" y2="931" stroke="#ff0000"/>
<line x1="1388" y1="982" x2="1425" y2="982" stroke="#4a0a30"/>
<line x1="1388" y1="1040" x2="1425" y2="1040" stroke="#f58a60"/>
<line x1="1388" y1="1098" x2="1425" y2="1098" stroke="#c08a6c"/>
<line x1="1388" y1="1157" x2="1425" y2="1157" stroke="#e68bc8"/>
<line x1="1388" y1="1215" x2="1425" y2="1215" stroke="#28a8f2"/>
<line x1="1388" y1="1273" x2="1425" y2="1273" stroke="#f8d46c"/>
<line x1="1388" y1="1331" x2="1425" y2="1331" stroke="#13877a"/>
<line x1="1388" y1="1387" x2="1425" y2="1387" stroke="#0b34a0"/>
</g>
<use href="#star" xlink:href="#star" x="1377" y="931" fill="#ff0000"/>
<circle cx="1407" cy="982" r="6.5" fill="#4a0a30"/>
<circle cx="1407" cy="1040" r="6.5" fill="#f58a60"/>
<circle cx="1407" cy="1098" r="6.5" fill="#c08a6c"/>
<circle cx="1407" cy="1157" r="6.5" fill="#e68bc8"/>
<circle cx="1407" cy="1215" r="6.5" fill="#28a8f2"/>
<circle cx="1407" cy="1273" r="6.5" fill="#f8d46c"/>
<circle cx="1407" cy="1331" r="6.5" fill="#13877a"/>
<circle cx="1407" cy="1387" r="6.5" fill="#0b34a0"/>
<g font-size="30" fill="#000">
<text x="1405" y="942" textLength="139" lengthAdjust="spacing">This work</text>
<text x="1436" y="993" textLength="95" lengthAdjust="spacing">Ref.47</text>
<text x="1436" y="1051" textLength="95" lengthAdjust="spacing">Ref.48</text>
<text x="1436" y="1109" textLength="95" lengthAdjust="spacing">Ref.49</text>
<text x="1436" y="1168" textLength="95" lengthAdjust="spacing">Ref.50</text>
<text x="1436" y="1226" textLength="95" lengthAdjust="spacing">Ref.51</text>
<text x="1436" y="1284" textLength="95" lengthAdjust="spacing">Ref.52</text>
<text x="1436" y="1342" textLength="95" lengthAdjust="spacing">Ref.53</text>
<text x="1436" y="1398" textLength="95" lengthAdjust="spacing">Ref.54</text>
</g>
</svg>
</body></html>
